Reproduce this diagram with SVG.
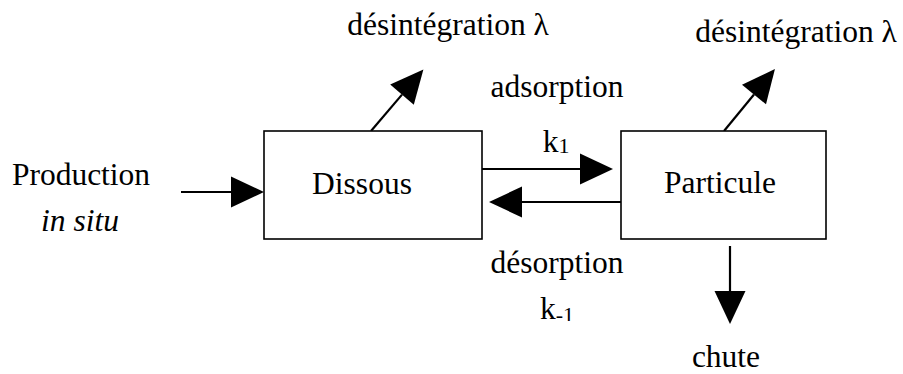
<svg xmlns="http://www.w3.org/2000/svg" width="903" height="374" viewBox="0 0 903 374">
<style>
  text { font-family: "Liberation Serif", "Times New Roman", serif; font-size: 31.5px; fill: #000; }
  .box { fill: #fff; stroke: #000; stroke-width: 1.6; }
  .arrow { stroke: #000; stroke-width: 2.2; fill: none; marker-end: url(#head); }
  .c { text-anchor: middle; }
  .sub { font-size: 22px; }
</style>
<defs>
  <marker id="head" markerUnits="userSpaceOnUse" markerWidth="34" markerHeight="32" refX="0" refY="15.5" orient="auto" overflow="visible">
    <path d="M0,0 L33,15.5 L0,31 Z" fill="#000"/>
  </marker>
  <clipPath id="clipkm1">
    <rect x="520" y="280" width="80" height="41"/>
  </clipPath>
</defs>
<rect width="903" height="374" fill="#fff"/>

<g id="connectors">
  <line id="c-production" class="arrow" x1="181" y1="192" x2="231" y2="192"/>
  <line id="c-adsorption" class="arrow" x1="482" y1="169" x2="580" y2="169"/>
  <line id="c-desorption" class="arrow" x1="621" y1="202" x2="522" y2="202"/>
  <line id="c-decay-dissous" class="arrow" x1="371" y1="131" x2="402" y2="94.6"/>
  <line id="c-decay-particule" class="arrow" x1="724" y1="131" x2="754" y2="94.5"/>
  <line id="c-chute" class="arrow" x1="730" y1="246" x2="730" y2="291"/>
</g>

<g id="node-dissous">
  <rect class="box" x="264" y="131" width="218" height="108"/>
  <text class="c" x="362" y="194">Dissous</text>
</g>

<g id="node-particule">
  <rect class="box" x="621" y="131" width="205" height="108"/>
  <text class="c" x="720" y="193">Particule</text>
</g>

<g id="label-production">
  <text class="c" x="81" y="185">Production</text>
  <text class="c" x="80" y="231" font-style="italic">in situ</text>
</g>

<g id="label-decay-left">
  <text class="c" x="448" y="35">désintégration λ</text>
</g>

<g id="label-decay-right">
  <text class="c" x="796" y="42">désintégration λ</text>
</g>

<g id="label-adsorption">
  <text class="c" x="557" y="97">adsorption</text>
  <text x="542.7" y="152">k<tspan class="sub" dy="1">1</tspan></text>
</g>

<g id="label-desorption">
  <text class="c" x="557" y="273">désorption</text>
  <text x="540" y="319" clip-path="url(#clipkm1)">k<tspan class="sub" dy="3">-1</tspan></text>
</g>

<g id="label-chute">
  <text class="c" x="726" y="367">chute</text>
</g>
</svg>
